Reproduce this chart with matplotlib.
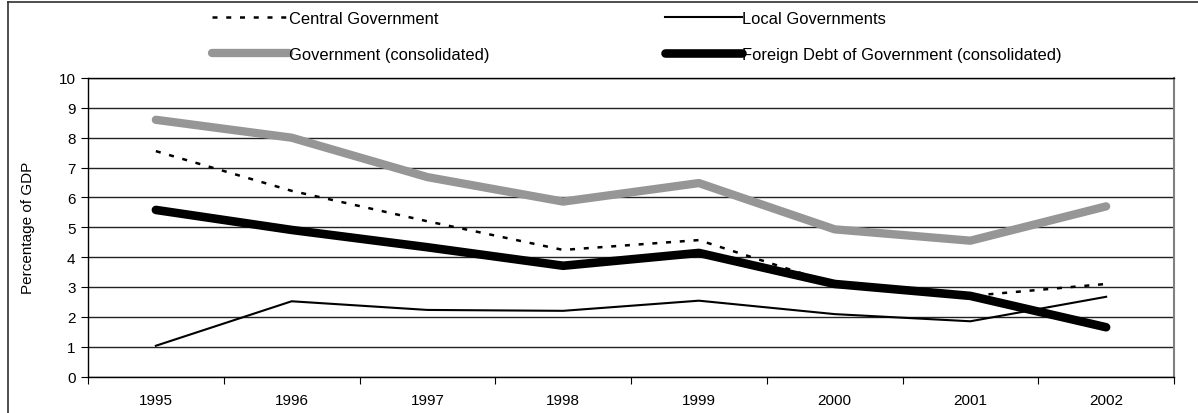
import matplotlib
matplotlib.use("Agg")
import matplotlib.pyplot as plt
from matplotlib.lines import Line2D
import numpy as np

plt.rcParams['font.family'] = ['Liberation Sans', 'DejaVu Sans']

years = ["1995", "1996", "1997", "1998", "1999", "2000", "2001", "2002"]
central = [7.55, 6.22, 5.2, 4.24, 4.57, 3.1, 2.7, 3.1]
local = [1.03, 2.52, 2.23, 2.2, 2.54, 2.09, 1.85, 2.67]
government = [8.6, 8.0, 6.68, 5.86, 6.48, 4.93, 4.55, 5.7]
foreign = [5.58, 4.91, 4.33, 3.71, 4.14, 3.1, 2.7, 1.65]

W, H = 1198, 414
fig = plt.figure(figsize=(W / 100, H / 100), dpi=100)
ax = fig.add_axes([88 / W, 1 - 377.5 / H, (1174 - 88) / W, 298.5 / H])

x = np.arange(len(years)) + 0.5
gray = "#969696"

l_central, = ax.plot(x, central, color="black", lw=1.8, dashes=(2, 3.5),
                     label="Central Government", zorder=3)
l_local, = ax.plot(x, local, color="black", lw=1.5,
                   label="Local Governments", zorder=3)
l_gov, = ax.plot(x, government, color=gray, lw=6, solid_capstyle="round",
                 label="Government (consolidated)", zorder=4)
l_foreign, = ax.plot(x, foreign, color="black", lw=6.2, solid_capstyle="round",
                     label="Foreign Debt of Government (consolidated)", zorder=5)

ax.set_xlim(0, len(years))
ax.set_ylim(0, 10)
ax.set_yticks(range(0, 11))
ax.set_xticks(range(0, len(years) + 1))
ax.set_xticklabels([])
ax.set_xticks(x, minor=True)
ax.set_xticklabels(years, minor=True)
ax.tick_params(axis="x", which="minor", length=0, pad=12, labelsize=11)
ax.tick_params(axis="x", which="major", length=5, direction="out", color="black")
ax.tick_params(axis="y", length=5, direction="out", pad=4, labelsize=11)

ax.grid(axis="y", color="#222222", lw=1.0)
ax.set_axisbelow(True)
for side in ["left", "bottom", "top"]:
    ax.spines[side].set_color("black")
    ax.spines[side].set_linewidth(1.0)
ax.spines["right"].set_color("#808080")
ax.spines["right"].set_linewidth(1.5)

ax.set_ylabel("Percentage of GDP", fontsize=11)
ax.yaxis.set_label_coords(-(88 - 35) / (1174 - 88), 0.5)

# two rows: central/local on top, consolidated series below
fig.legend(handles=[l_central, l_gov, l_local, l_foreign], ncol=2,
           loc="upper left", bbox_to_anchor=(212 / W, 1 - 12 / H),
           frameon=False, fontsize=11.9, handlelength=4.67, handletextpad=0.0,
           columnspacing=10.6, labelspacing=1.25, borderpad=0, borderaxespad=0)

# outer frame (left and top edges visible)
fig.add_artist(Line2D([8 / W, 8 / W], [0, 1 - 3 / H], color="#303030", lw=1.2))
fig.add_artist(Line2D([8 / W, 1], [1 - 3 / H, 1 - 3 / H], color="#303030", lw=1.2))

fig.savefig("out.png", dpi=100)
